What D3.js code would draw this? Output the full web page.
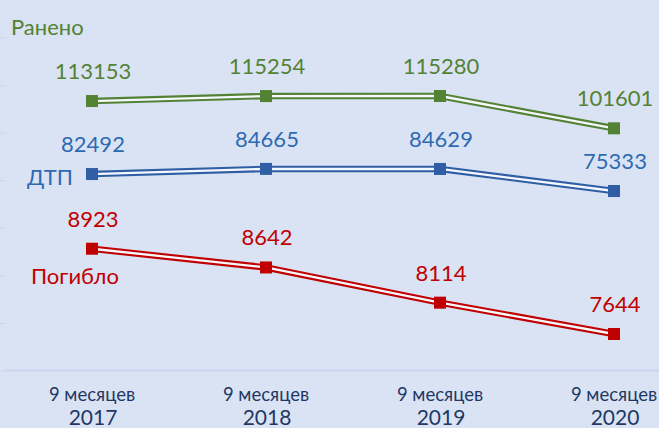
<!DOCTYPE html>
<html>
<head>
<meta charset="utf-8">
<script src="https://cdn.jsdelivr.net/npm/d3@7"></script>
<style>
  body { margin: 0; background: #dae3f3; }
  svg { display: block; font-family: Lato, "Open Sans", sans-serif; }
</style>
</head>
<body>
<div id="chart"></div>
<script>
// data
var years = ["2017", "2018", "2019", "2020"];
var periodLabel = "9 месяцев";
var injured = [113153, 115254, 115280, 101601];   // Ранено
var accidents = [82492, 84665, 84629, 75333];     // ДТП
var killed = [8923, 8642, 8114, 7644];            // Погибло

var width = 659, height = 428;

var svg = d3.select("#chart").append("svg")
  .attr("width", width)
  .attr("height", height);

svg.append("rect")
  .attr("width", width)
  .attr("height", height)
  .attr("fill", "#dae3f3");

var x = d3.scalePoint().domain(years).range([92, 614]);

// every series has its own scale (three separate value ranges)
var series = [
  { name: "Ранено", values: injured, color: "#548235", textColor: "#548235",
    y: d3.scaleLinear().domain([100000, 116000]).range([132.1, 94.3]),
    label: { x: 11, y: 35 } },
  { name: "ДТП", values: accidents, color: "#2f5ea5", textColor: "#2e6ab4",
    y: d3.scaleLinear().domain([75000, 85000]).range([191.8, 168.1]),
    label: { x: 27, y: 185 } },
  { name: "Погибло", values: killed, color: "#c00000", textColor: "#c00000",
    y: d3.scaleLinear().domain([7500, 9000]).range([343.6, 243.6]),
    label: { x: 31, y: 284 } }
];

// faint hidden y axis ticks
var yGrid = d3.scaleLinear().domain([0, 350]).range([370.5, 37.5]);
var yAxis = svg.append("g")
  .attr("transform", "translate(6,0)")
  .call(d3.axisLeft(yGrid).ticks(7).tickSize(6).tickFormat(""));
yAxis.select(".domain").remove();
yAxis.selectAll("line").attr("stroke", "#c8d6ec").attr("stroke-width", 1);

// bottom axis line
svg.append("line")
  .attr("x1", 5).attr("x2", width)
  .attr("y1", 370.5).attr("y2", 370.5)
  .attr("stroke", "#c6d6ee")
  .attr("stroke-width", 2);

// x labels
var xl = svg.append("g").selectAll("text")
  .data(years)
  .enter().append("text")
  .attr("text-anchor", "middle")
  .attr("fill", "#1f3864");
xl.append("tspan")
  .attr("x", function(d) { return x(d); })
  .attr("y", 401)
  .attr("font-size", 18.5)
  .text(periodLabel);
xl.append("tspan")
  .attr("x", function(d) { return x(d) + 1; })
  .attr("y", 425)
  .attr("font-size", 21)
  .text(function(d) { return d; });

series.forEach(function(s) {
  var pts = s.values.map(function(v, i) { return [x(years[i]), s.y(v)]; });
  var line = d3.line();
  var g = svg.append("g");

  // double line: coloured outer stroke with a light core
  g.append("path")
    .attr("d", line(pts))
    .attr("fill", "none")
    .attr("stroke", s.color)
    .attr("stroke-width", 6.5);
  g.append("path")
    .attr("d", line(pts))
    .attr("fill", "none")
    .attr("stroke", "#f4f7fc")
    .attr("stroke-width", 2.3);

  g.selectAll("rect")
    .data(pts)
    .enter().append("rect")
    .attr("x", function(d) { return d[0] - 6; })
    .attr("y", function(d) { return d[1] - 6; })
    .attr("width", 12)
    .attr("height", 12)
    .attr("fill", s.color);

  g.selectAll("text.val")
    .data(s.values)
    .enter().append("text")
    .attr("class", "val")
    .attr("x", function(d, i) { return x(years[i]) + 1; })
    .attr("y", function(d) { return s.y(d) - 22; })
    .attr("text-anchor", "middle")
    .attr("font-size", 22)
    .attr("fill", s.textColor)
    .text(function(d) { return d; });

  svg.append("text")
    .attr("x", s.label.x)
    .attr("y", s.label.y)
    .attr("font-size", 22)
    .attr("fill", s.textColor)
    .text(s.name);
});
</script>
</body>
</html>
